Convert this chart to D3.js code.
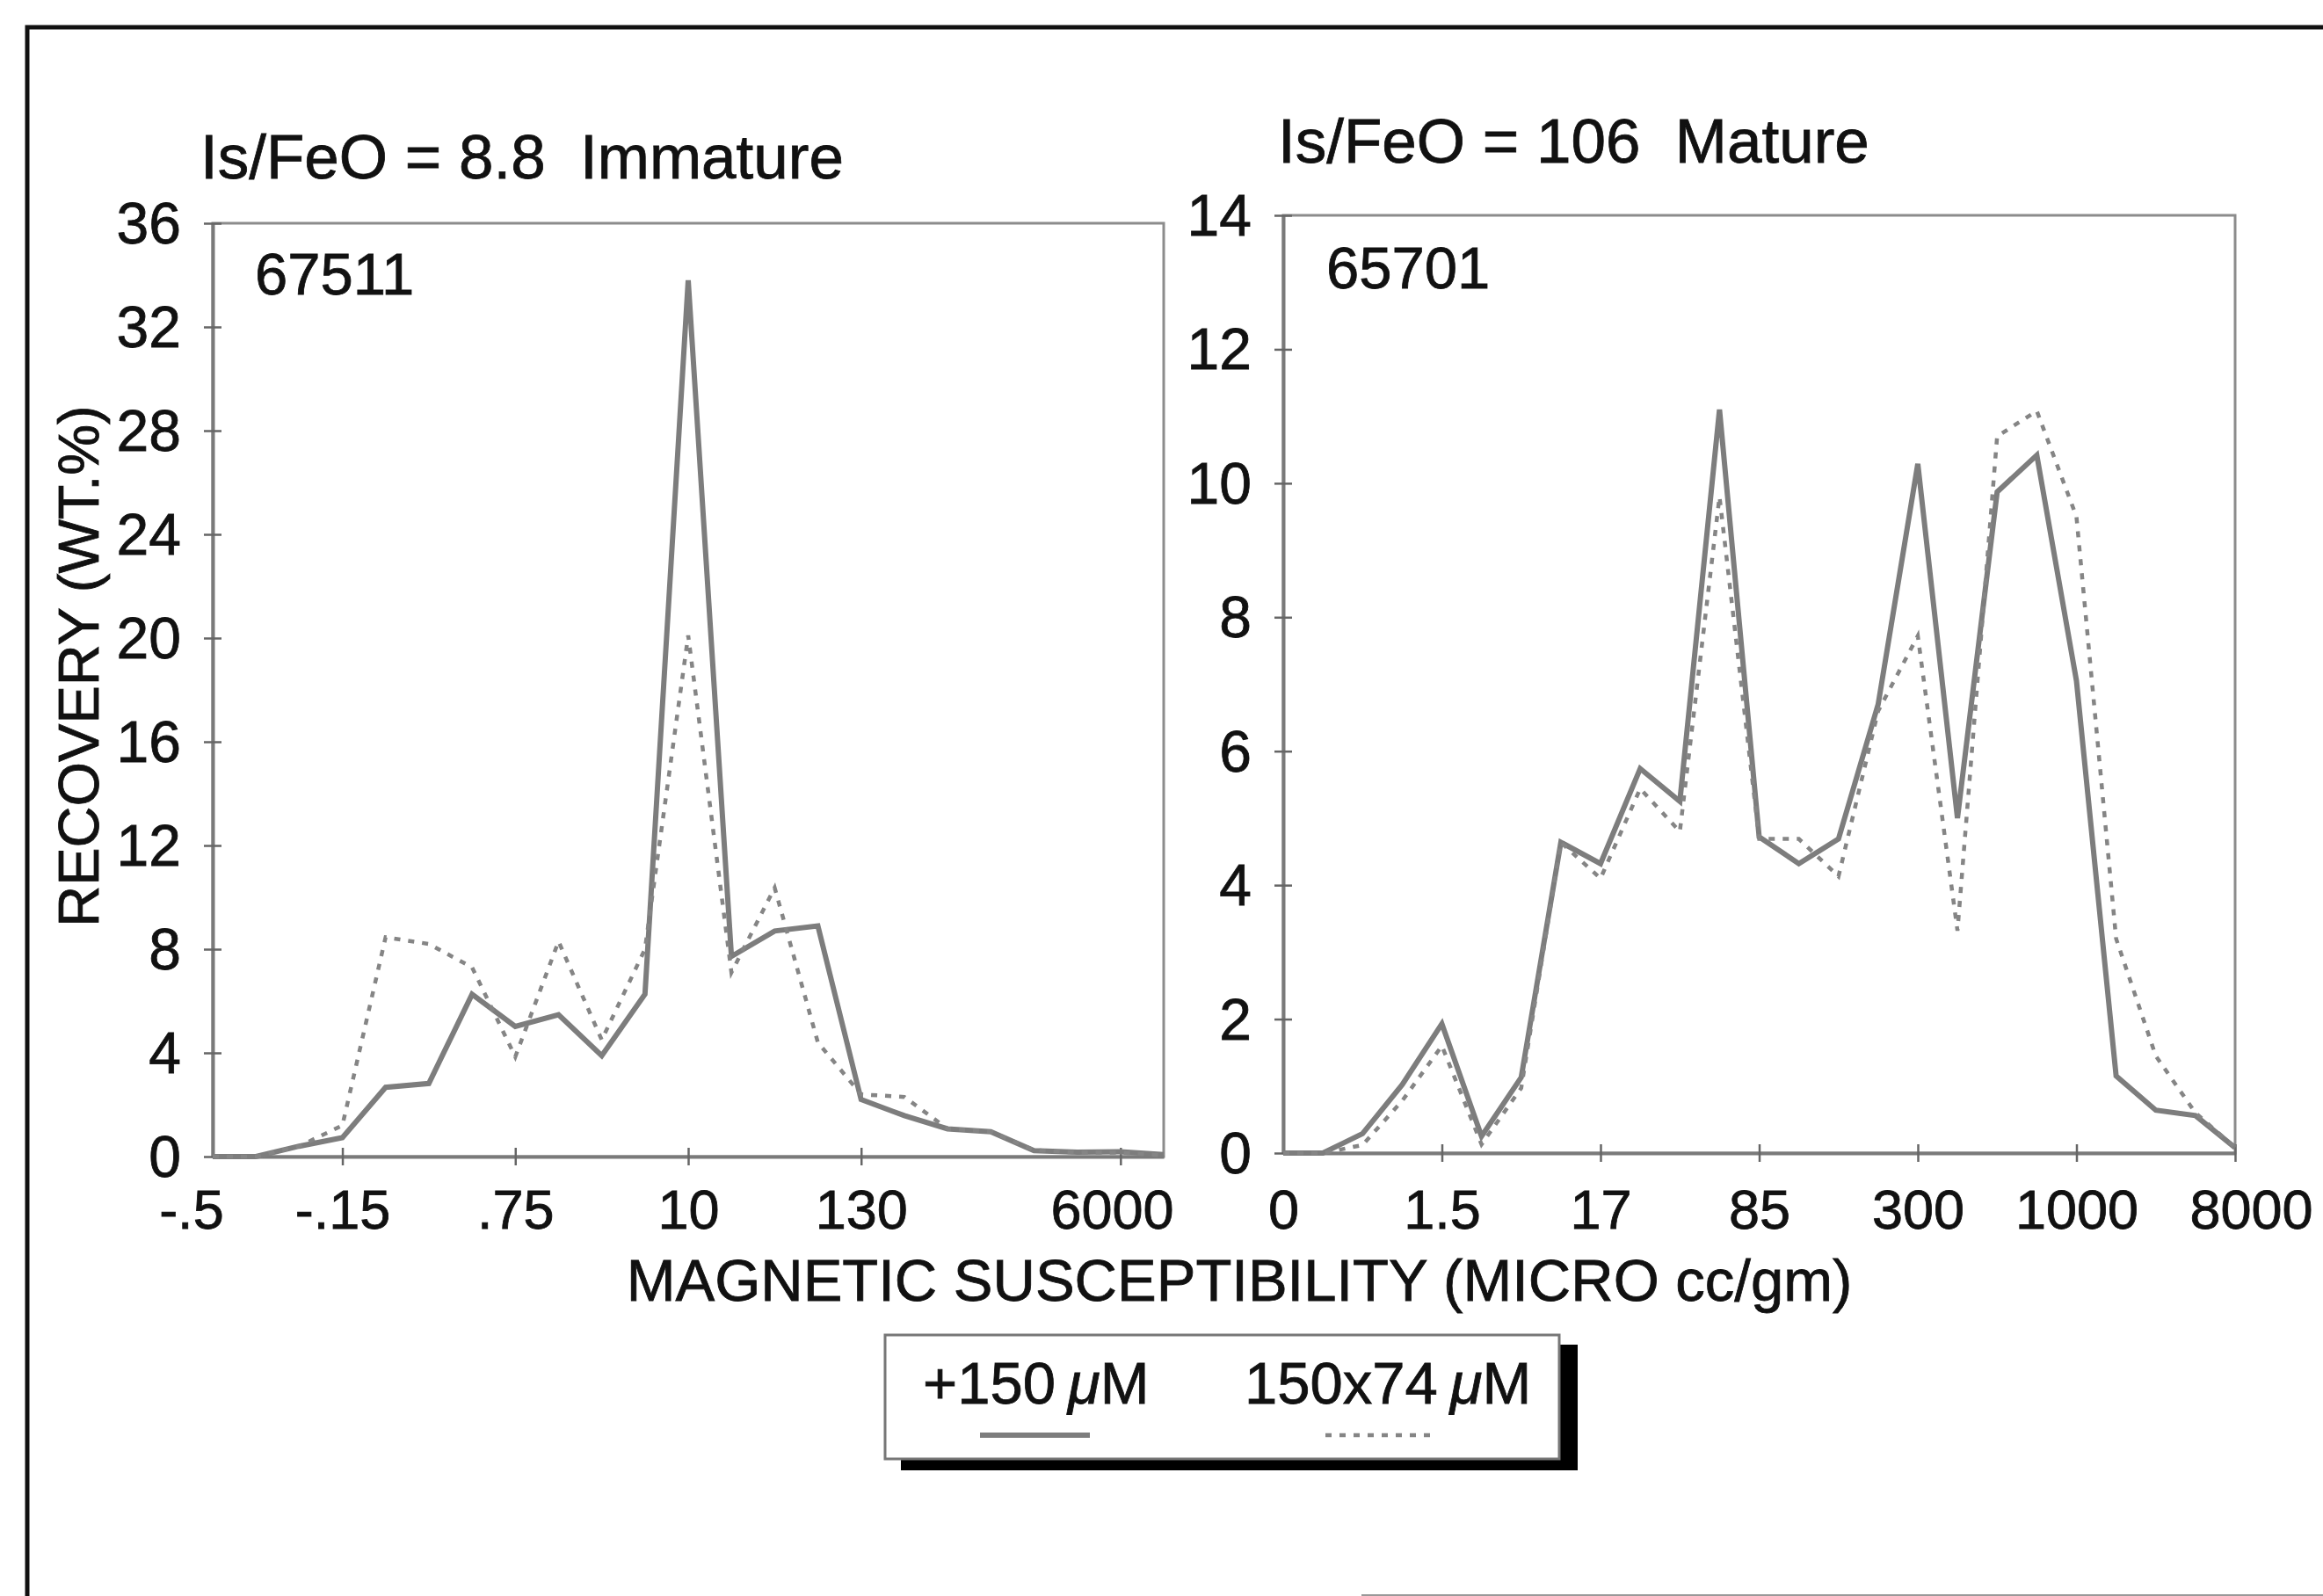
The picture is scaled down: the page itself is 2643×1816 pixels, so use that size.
<!DOCTYPE html>
<html>
<head>
<meta charset="utf-8">
<script src="https://cdnjs.cloudflare.com/ajax/libs/d3/7.8.5/d3.min.js"></script>
<style>
  body { margin: 0; background: #fff; }
  svg text { font-family: "Liberation Sans", Arial, Helvetica, sans-serif; fill: #111;
             stroke: #111; stroke-width: 0.8px; white-space: pre; }
</style>
</head>
<body>
<div id="chart"></div>
<script>
// one value per susceptibility fraction (x is just the fraction index)
const leftTickLabels = ["-.5", "-.15", ".75", "10", "130", "6000"]
const leftLabelAt = [-0.5, 3, 7, 11, 15, 20.8]
const leftTicksAt = [3, 7, 11, 15, 21]
const left150 = [0, 0, 0.4, 0.73, 2.67, 2.82, 6.26, 5.02, 5.47, 3.89, 6.26, 33.8,
    7.72, 8.7, 8.9, 2.2, 1.58, 1.07, 0.96, 0.23, 0.17, 0.19, 0.08]
const left74 = [0, 0, 0.4, 1.2, 8.46, 8.2, 7.3, 3.85, 8.3, 4.5, 8.0, 20.1,
    7.1, 10.37, 4.4, 2.4, 2.3, 1.07, 0.96, 0.25, 0.15, 0.15, 0.05]

const rightTickLabels = ["0", "1.5", "17", "85", "300", "1000", "8000"]
const rightLabelAt = [0, 4, 8, 12, 16, 20, 24.4]
const rightTicksAt = [4, 8, 12, 16, 20, 24]
const right150 = [0, 0, 0.29, 1.02, 1.93, 0.25, 1.13, 4.64, 4.32, 5.74, 5.25, 11.1,
    4.72, 4.32, 4.69, 6.7, 10.29, 5.0, 9.87, 10.42, 7.05, 1.15, 0.64, 0.56, 0.08]
const right74 = [0, 0, 0.12, 0.78, 1.6, 0.13, 0.97, 4.64, 4.1, 5.44, 4.8, 9.8,
    4.69, 4.69, 4.13, 6.6, 7.72, 3.32, 10.7, 11.08, 9.5, 3.2, 1.45, 0.6, 0.08]

const legendLabels = ["+150", "150x74"]

const width = 2643, height = 1816

const svg = d3.select("#chart")
    .append("svg")
    .attr("width", width)
    .attr("height", height)

svg.append("rect").attr("width", width).attr("height", height).attr("fill", "#fff")

// scanned page frame
svg.append("path")
    .attr("d", "M31,1816 V31 H2643")
    .attr("fill", "none")
    .attr("stroke", "#111")
    .attr("stroke-width", 5)
svg.append("path")
    .attr("d", "M1549,1815 H2643")
    .attr("stroke", "#999")
    .attr("stroke-width", 2)

const solidStyle = sel => sel.attr("fill", "none").attr("stroke", "#7d7d7d").attr("stroke-width", 6)
const dottedStyle = sel => sel.attr("fill", "none").attr("stroke", "#858585")
    .attr("stroke-width", 4.5).attr("stroke-dasharray", "7,9")

function drawPanel(p) {
    const x = d3.scaleLinear().domain([0, p.coarse.length - 1]).range([p.left, p.right])
    const y = d3.scaleLinear().domain([0, p.yMax]).range([p.bottom, p.top])
    const g = svg.append("g")

    g.append("rect")
        .attr("x", p.left)
        .attr("y", y(p.yMax))
        .attr("width", p.right - p.left)
        .attr("height", y(0) - y(p.yMax))
        .attr("fill", "none")
        .attr("stroke", "#8c8c8c")
        .attr("stroke-width", 3)

    // y axis, ticks cross the line
    const yAxis = d3.axisLeft(y)
        .tickValues(d3.range(0, p.yMax + 1, p.yStep))
        .tickSize(10).tickSizeOuter(0).tickPadding(26)
    const ya = g.append("g").attr("transform", `translate(${p.left},0)`).call(yAxis)
    ya.select(".domain").attr("stroke", "#7a7a7a").attr("stroke-width", 4)
    ya.selectAll(".tick line").attr("x1", 10).attr("stroke", "#666").attr("stroke-width", 2.5)
    ya.selectAll(".tick text").style("font-size", "66px").attr("dy", "0.34em")

    // x tick marks
    const xTicks = d3.axisBottom(x).tickValues(p.ticksAt).tickFormat("").tickSize(10).tickSizeOuter(0)
    const xa = g.append("g").attr("transform", `translate(0,${y(0)})`).call(xTicks)
    xa.select(".domain").attr("stroke", "#7a7a7a").attr("stroke-width", 4)
    xa.selectAll(".tick line").attr("y1", -10).attr("stroke", "#666").attr("stroke-width", 2.5)

    // x labels
    const xLabels = d3.axisBottom(x).tickValues(p.labelAt)
        .tickFormat((d, i) => p.labels[i]).tickSize(0)
    const xl = g.append("g").attr("transform", `translate(0,${y(0)})`).call(xLabels)
    xl.select(".domain").remove()
    xl.selectAll(".tick text")
        .style("font-size", "63px")
        .attr("y", 1398 - y(0))
        .attr("dy", 0)

    const line = d3.line()
        .x((d, i) => x(i))
        .y(d => y(d))

    g.append("path").datum(p.coarse).call(solidStyle).attr("d", line)
    g.append("path").datum(p.fine).call(dottedStyle).attr("d", line)

    g.append("text")
        .attr("x", p.titleX).attr("y", p.titleY)
        .style("font-size", "71px")
        .text(p.title)

    g.append("text")
        .attr("x", p.sampleX).attr("y", p.sampleY)
        .style("font-size", "67px")
        .text(p.sample)
}

drawPanel({
    left: 242, right: 1324, bottom: 1316, top: 254, yMax: 36, yStep: 4,
    coarse: left150, fine: left74,
    labels: leftTickLabels, labelAt: leftLabelAt, ticksAt: leftTicksAt,
    title: "Is/FeO = 8.8  Immature", titleX: 228, titleY: 203,
    sample: "67511", sampleX: 290, sampleY: 335
})

drawPanel({
    left: 1460, right: 2543, bottom: 1312, top: 245, yMax: 14, yStep: 2,
    coarse: right150, fine: right74,
    labels: rightTickLabels, labelAt: rightLabelAt, ticksAt: rightTicksAt,
    title: "Is/FeO = 106  Mature", titleX: 1454, titleY: 185,
    sample: "65701", sampleX: 1509, sampleY: 328
})

// axis titles
svg.append("text")
    .attr("transform", "translate(112,758) rotate(-90)")
    .attr("text-anchor", "middle")
    .style("font-size", "65px")
    .text("RECOVERY (WT.%)")

svg.append("text")
    .attr("x", 1410).attr("y", 1480)
    .attr("text-anchor", "middle")
    .style("font-size", "67px")
    .text("MAGNETIC SUSCEPTIBILITY (MICRO cc/gm)")

// legend with drop shadow
const legend = svg.append("g")
legend.append("rect")
    .attr("x", 1025).attr("y", 1530).attr("width", 770).attr("height", 143)
    .attr("fill", "#000")
legend.append("rect")
    .attr("x", 1007).attr("y", 1519).attr("width", 767).attr("height", 141)
    .attr("fill", "#fff").attr("stroke", "#777").attr("stroke-width", 3)

const legendItems = [
    { label: legendLabels[0], tx: 1050, x1: 1115, x2: 1240, style: solidStyle },
    { label: legendLabels[1], tx: 1416, x1: 1508, x2: 1632, style: dottedStyle }
]
legendItems.forEach(function (d) {
    const t = legend.append("text")
        .attr("x", d.tx).attr("y", 1597)
        .style("font-size", "67px")
    t.append("tspan").text(d.label)
    t.append("tspan").attr("dx", 14).style("font-style", "italic").text("\u03bc")
    t.append("tspan").text("M")
    legend.append("line")
        .attr("x1", d.x1).attr("x2", d.x2)
        .attr("y1", 1633).attr("y2", 1633)
        .call(d.style)
})
</script>
</body>
</html>
